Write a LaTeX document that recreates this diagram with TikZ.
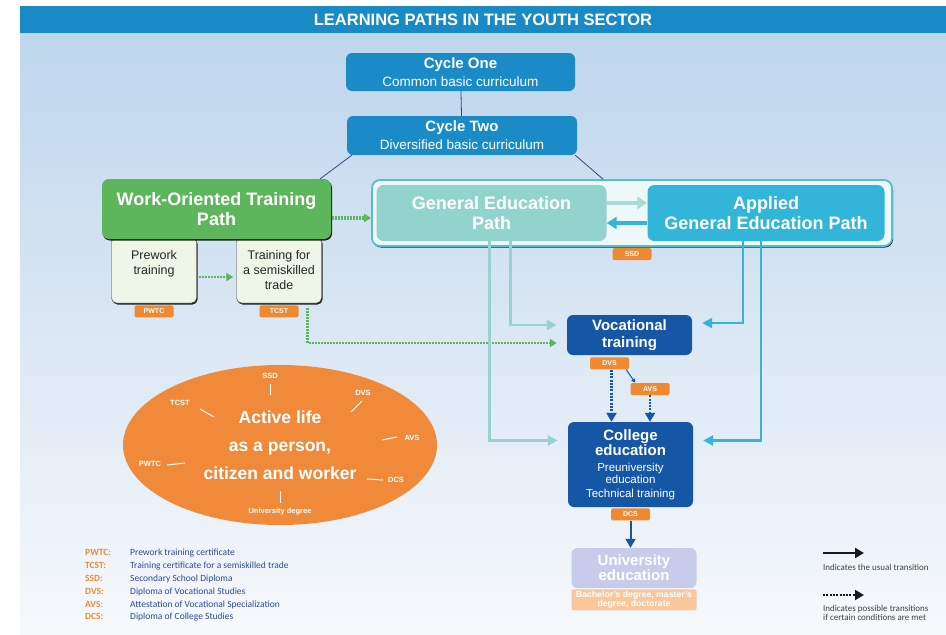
\documentclass[tikz,border=0pt]{standalone}
\usepackage{fontspec}
\setmainfont{Liberation Sans}
\newfontfamily\legendfont{Carlito}
\usetikzlibrary{positioning,calc,arrows.meta,shapes.geometric,shadows}

\definecolor{titleblue}{HTML}{1A8AC6}
\definecolor{bgtop}{HTML}{BCD4EC}
\definecolor{bgbot}{HTML}{F7F9FC}
\definecolor{cycleblue}{HTML}{1B8BC7}
\definecolor{workgreen}{HTML}{5DB65C}
\definecolor{palegreen}{HTML}{EEF6E8}
\definecolor{tagorange}{HTML}{F08A32}
\definecolor{lifeorange}{HTML}{F08A3A}
\definecolor{genteal}{HTML}{93D3CE}
\definecolor{paleteal}{HTML}{A8DAD6}
\definecolor{appblue}{HTML}{33B5DA}
\definecolor{navy}{HTML}{1656A7}
\definecolor{unililac}{HTML}{C6CCEA}
\definecolor{peach}{HTML}{F8C79C}
\definecolor{legendblue}{HTML}{2B4C9A}
\definecolor{lineteal}{HTML}{98D2CE}
\definecolor{linegrey}{HTML}{2F4C78}
\definecolor{outerfill}{HTML}{EEF8F9}
\definecolor{outerline}{HTML}{55C0CC}

\newcommand\legab[1]{\makebox[45pt][l]{\textcolor{tagorange}{\bfseries #1}}}
\newcommand\bighead[1]{{\bfseries\fontsize{15}{15}\selectfont #1}}

\begin{document}
\begin{tikzpicture}[
    x=1pt, y=-1pt,
    box/.style={align=center, inner sep=0pt, text=white, rounded corners=6pt},
    cyclebox/.style={box, fill=cycleblue, minimum width=229pt, minimum height=38pt, font=\fontsize{13.5}{18}\selectfont},
    track/.style={box, rounded corners=7pt, font=\bfseries\fontsize{18}{20}\selectfont},
    shadowed/.style={drop shadow={shadow xshift=1pt, shadow yshift=-1.5pt, fill=black, opacity=.85}},
    sub/.style={draw=black!75, fill=palegreen, rounded corners=5pt, align=center, text=black!85, minimum width=85pt, minimum height=66pt, inner sep=0pt, font=\fontsize{12.5}{15}\selectfont, shadowed},
    study/.style={box, fill=navy, minimum width=125pt},
    tag/.style={fill=tagorange, rounded corners=1.5pt, minimum width=39pt, minimum height=12pt, inner sep=0pt, text=white, font=\bfseries\fontsize{7}{7}\selectfont},
    lifetag/.style={text=white, inner sep=1pt, font=\bfseries\fontsize{7.5}{8}\selectfont},
    tickline/.style={white, line width=1pt},
    flow/.style={line width=2.5pt, -{Triangle[length=10pt,width=10pt]}, shorten >=10pt},
    greendot/.style={workgreen, line width=2.5pt, dash pattern=on 1.8pt off 1.2pt, -{Triangle[length=7pt,width=8pt]}},
    usual/.style={line width=2.5pt, -{Triangle[length=9pt,width=10pt]}},
    maybe/.style={usual, dash pattern=on 2pt off 1.3pt},
    legend/.style={anchor=west, inner sep=0pt, text=legendblue, font=\legendfont\fontsize{9.5}{9.5}\selectfont},
    note/.style={anchor=west, inner sep=0pt, align=left, text=black!75, font=\legendfont\fontsize{9}{9}\selectfont}
  ]

  \useasboundingbox (0,0) rectangle (946,635);
  \fill[white] (0,0) rectangle (946,635);
  \shade[top color=bgtop, bottom color=bgbot] (20,6) rectangle (946,635);
  \node[fill=titleblue, minimum width=926pt, minimum height=27pt, inner sep=0pt, text=white, font=\bfseries\fontsize{16.5}{16.5}\selectfont] (TITLE) at (483,19.5) {LEARNING PATHS IN THE YOUTH SECTOR};

  \node[cyclebox] (C1) at (460.5,72) {{\bfseries\fontsize{15}{18}\selectfont Cycle One}\\Common basic curriculum};
  \node[cyclebox, minimum width=230pt, minimum height=39pt] (C2) at (462,135.5) {{\bfseries\fontsize{15}{18}\selectfont Cycle Two}\\Diversified basic curriculum};

  \node[sub] (PW) at (154,270) {Prework\\training\\\mbox{}};
  \node[sub] (TR) at (279,270) {Training for\\a semiskilled\\trade};
  \node[track, fill=workgreen, minimum width=229pt, minimum height=60pt, shadowed] (WO) at (216.5,209) {Work-Oriented Training\\Path};
  \node[tag, below=2pt of PW] (PWTC) {PWTC};
  \node[tag, below=2pt of TR] (TCST) {TCST};

  \node[fill=outerfill, draw=outerline, line width=1.8pt, rounded corners=8pt, minimum width=520pt, minimum height=66pt, shadowed] (OB) at (632,213) {};
  \node[track, fill=genteal, minimum width=230pt, minimum height=56pt] (GE) at (491.5,213) {General Education\\Path};
  \node[track, fill=appblue, minimum width=237pt, minimum height=56pt] (AG) at (766,213) {Applied\\General Education Path};
  \node[tag, below=1pt of OB] (SSD) {SSD};

  \node[study, minimum height=40pt, font=\bfseries\fontsize{15}{17}\selectfont] (VT) at (629.5,335) {Vocational\\training};
  \node[tag, below=2pt of VT, xshift=-20pt] (DVS) {DVS};
  \node[tag] (AVS) at (650,389) {AVS};
  \node[study, minimum height=85pt, font=\fontsize{11.5}{12.5}\selectfont] (CE) at (630.5,464.5) {\bighead{College}\\\bighead{education}\\[3pt]Preuniversity\\education\\[1pt]Technical training};
  \node[tag, below=1pt of CE] (DCS) {DCS};
  \node[track, fill=unililac, rounded corners=6pt, minimum width=125pt, minimum height=40pt, font=\bfseries\fontsize{15}{15}\selectfont] (UE) at (634,568) {University\\education};
  \node[below=1pt of UE, fill=peach, rounded corners=2pt, minimum width=125pt, minimum height=21pt, inner sep=0pt, align=center, text=white, font=\bfseries\fontsize{8.7}{8.7}\selectfont] (DEG) {Bachelor's degree, master's\\degree, doctorate};

  \draw[linegrey, line width=.8pt] (C1) -- (C2);
  \draw[linegrey, line width=.8pt] ([xshift=5pt]C2.south west) -- ([xshift=-11pt]WO.north east);
  \draw[linegrey, line width=.8pt] ([xshift=-2pt]C2.south east) -- ([xshift=-29pt]OB.north);

  \draw[greendot, line width=3.5pt] ($(WO.east)+(1,9)$) -- ($(OB.west |- WO.east)+(0,9)$);
  \draw[greendot, line width=1.8pt] ($(PW.east)+(2,7)$) -- ($(TR.west)+(-3,7)$);
  \draw[greendot, shorten <=5pt, shorten >=10pt] ([xshift=-14pt]TR.south east) |- ([yshift=-8pt]VT.west);

  \draw[paleteal, line width=4pt, -{Triangle[length=10pt,width=12pt]}] ([yshift=10pt]GE.east) -- ([yshift=10pt]AG.west);
  \draw[appblue, line width=4pt, -{Triangle[length=10pt,width=12pt]}] ([yshift=-10pt]AG.west) -- ([yshift=-10pt]GE.east);

  \draw[flow, lineteal] ([xshift=19pt]GE.south) |- ([yshift=10pt]VT.west);
  \draw[flow, lineteal] ([xshift=-2pt]GE.south) |- ([yshift=24pt]CE.west);
  \draw[flow, appblue] ([xshift=-23pt]AG.south) |- ([yshift=12pt]VT.east);
  \draw[flow, appblue] ([xshift=-5pt]AG.south) |- ([yshift=24pt]CE.east);

  \draw[navy, line width=1pt, -{Triangle[length=4pt,width=4pt]}] ([xshift=-3pt]DVS.south east) -- ([xshift=5pt]AVS.north west);
  \draw[maybe, navy] ([xshift=2pt]DVS.south) -- ([xshift=2pt]DVS.south |- CE.north);
  \draw[maybe, navy] (AVS.south) -- (AVS.south |- CE.north);
  \draw[usual, navy, line width=2pt] (DCS.south) -- (DCS.south |- UE.north);

  \node[ellipse, fill=lifeorange, minimum width=314pt, minimum height=160pt, inner sep=0pt, align=center, text=white, font=\bfseries\fontsize{17.5}{28}\selectfont] (LIFE) at (280,445) {Active life\\as a person,\\citizen and worker};
  \node[lifetag] (lSSD) at (270,376) {SSD};
  \node[lifetag] (lDVS) at (363,393) {DVS};
  \node[lifetag] (lTCST) at (180,403) {TCST};
  \node[lifetag] (lAVS) at (412,438) {AVS};
  \node[lifetag] (lPWTC) at (150,464) {PWTC};
  \node[lifetag] (lDCS) at (396,480) {DCS};
  \node[lifetag] (lUNI) at (280,512) {University degree};
  \draw[tickline] (270,384) -- (270,395);
  \draw[tickline] (200,409) -- (214,417);
  \draw[tickline] (362,401) -- (351,412);
  \draw[tickline] (397,437) -- (382,440);
  \draw[tickline] (167,465) -- (185,463);
  \draw[tickline] (383,480) -- (367,479);
  \draw[tickline] (280,491) -- (280,503);

  \node[legend] (L1) at (85,553) {\legab{PWTC:}Prework training certificate};
  \node[legend] (L2) at (85,566) {\legab{TCST:}Training certificate for a semiskilled trade};
  \node[legend] (L3) at (85,579) {\legab{SSD:}Secondary School Diploma};
  \node[legend] (L4) at (85,592) {\legab{DVS:}Diploma of Vocational Studies};
  \node[legend] (L5) at (85,605) {\legab{AVS:}Attestation of Vocational Specialization};
  \node[legend] (L6) at (85,617) {\legab{DCS:}Diploma of College Studies};

  \coordinate (U1) at (823,553);
  \coordinate (U2) at (864,553);
  \coordinate (D1) at (823,595);
  \coordinate (D2) at (864,595);
  \draw[usual, black!90] (U1) -- (U2);
  \draw[maybe, black!90, line width=2pt] (D1) -- (D2);
  \node[note] (N1) at (823,567) {Indicates the usual transition};
  \node[note] (N2) at (823,613) {Indicates possible transitions\\if certain conditions are met};
\end{tikzpicture}
\end{document}
